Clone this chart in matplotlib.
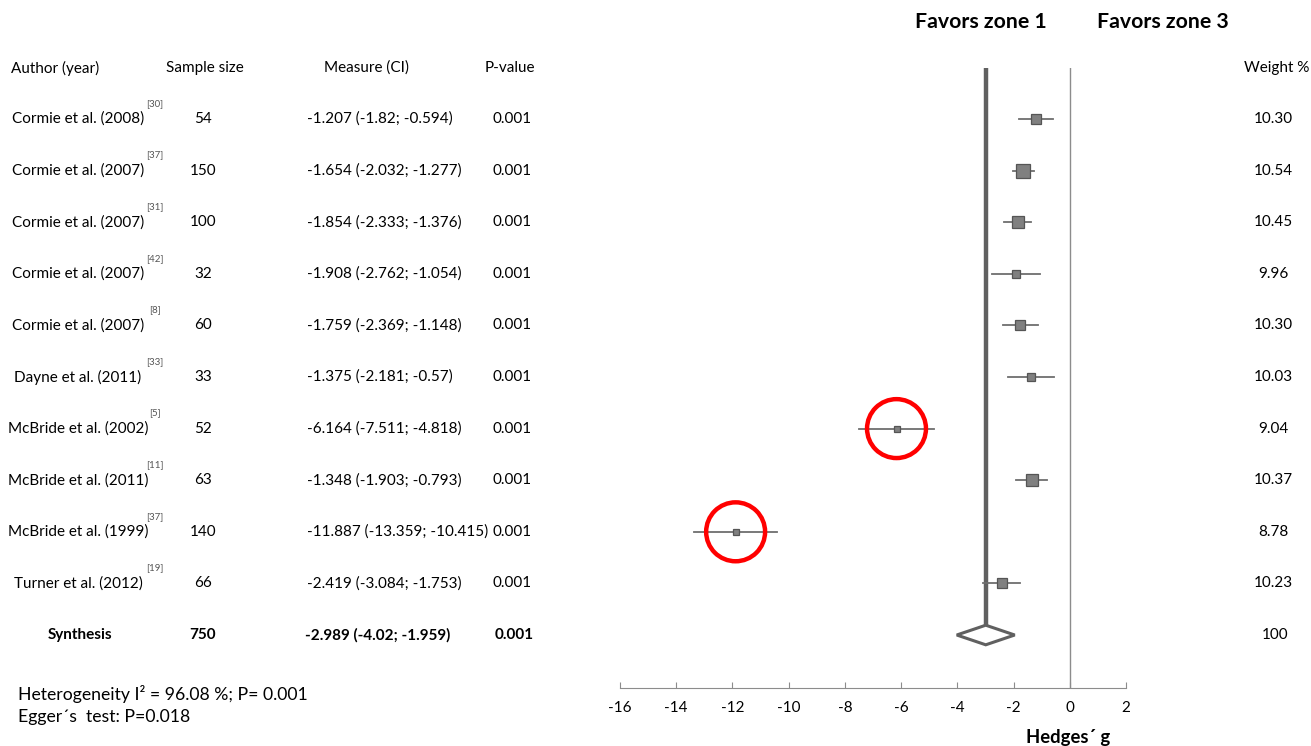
import numpy as np
import matplotlib.pyplot as plt
from matplotlib import transforms

plt.rcParams['font.family'] = ['Lato', 'DejaVu Sans']
plt.rcParams['axes.unicode_minus'] = False

authors = ['Cormie et al. (2008)', 'Cormie et al. (2007)', 'Cormie et al. (2007)',
           'Cormie et al. (2007)', 'Cormie et al. (2007)', 'Dayne et al. (2011)',
           'McBride et al. (2002)', 'McBride et al. (2011)', 'McBride et al. (1999)',
           'Turner et al. (2012)']
refs = ['[30]', '[37]', '[31]', '[42]', '[8]', '[33]', '[5]', '[11]', '[37]', '[19]']
sample_size = [54, 150, 100, 32, 60, 33, 52, 63, 140, 66]
estimate = [-1.207, -1.654, -1.854, -1.908, -1.759, -1.375, -6.164, -1.348, -11.887, -2.419]
ci_low = [-1.82, -2.032, -2.333, -2.762, -2.369, -2.181, -7.511, -1.903, -13.359, -3.084]
ci_high = [-0.594, -1.277, -1.376, -1.054, -1.148, -0.57, -4.818, -0.793, -10.415, -1.753]
p_values = ['0.001'] * 10
weights = ['10.30', '10.54', '10.45', '9.96', '10.30', '10.03', '9.04', '10.37', '8.78', '10.23']
outliers = [6, 8]

syn_n = 750
syn_est, syn_low, syn_high = -2.989, -4.02, -1.959
syn_p = '0.001'
syn_weight = '100'

W, H = 1311, 746
fig = plt.figure(figsize=(W / 100, H / 100), dpi=100)

# forest panel: x from -16 to 2, one row per study plus the synthesis row
ax = fig.add_axes([620 / W, 1 - 688 / H, 506 / W, 620 / H])
ax.set_xlim(-16, 2)
ax.set_ylim(11.027, -0.988)
for side in ['top', 'right', 'left']:
    ax.spines[side].set_visible(False)
ax.spines['bottom'].set_color('#8c8c8c')
ax.set_yticks([])
ax.set_xticks(np.arange(-16, 3, 2))
ax.tick_params(axis='x', direction='in', length=4, color='#8c8c8c', pad=9, labelsize=11)

rows = np.arange(len(authors))
syn_row = len(authors)

# reference line at zero and pooled estimate line
ax.axvline(0, color='#8c8c8c', lw=1, zorder=1)
ax.plot([syn_est, syn_est], [-0.988, syn_row - 0.2], color='#606060', lw=3.2,
        solid_capstyle='butt', zorder=2)

for i in rows:
    ax.plot([ci_low[i], ci_high[i]], [i, i], color='#6e6e6e', lw=1.3, zorder=3)
    size_px = 4 + 8 / (ci_high[i] - ci_low[i])
    ax.plot(estimate[i], i, marker='s', markersize=size_px * 0.72,
            markerfacecolor='#808080', markeredgecolor='#555555', markeredgewidth=0.9,
            zorder=4)

ax.fill([syn_low, syn_est, syn_high, syn_est, syn_low],
        [syn_row, syn_row - 0.19, syn_row, syn_row + 0.19, syn_row],
        facecolor='white', edgecolor='#606060', lw=2.2, zorder=5, joinstyle='miter')

ax.scatter([estimate[i] for i in outliers], outliers, s=1800, facecolors='none',
           edgecolors='#ff0000', linewidths=3.2, zorder=6)

# table columns on the left, rows aligned to the forest axes
tr = transforms.blended_transform_factory(fig.transFigure, ax.transData)
fy = lambda px: 1 - px / H
fx = lambda px: px / W

fs = 11
header_y = fy(68)
fig.text(fx(11), header_y, 'Author (year)', ha='left', va='center', fontsize=fs)
fig.text(fx(205), header_y, 'Sample size', ha='center', va='center', fontsize=fs)
fig.text(fx(366), header_y, 'Measure (CI)', ha='center', va='center', fontsize=fs)
fig.text(fx(510), header_y, 'P-value', ha='center', va='center', fontsize=fs)
fig.text(fx(1309), header_y, 'Weight %', ha='right', va='center', fontsize=fs)

for i in rows:
    ax.text(fx(78), i, authors[i], transform=tr, ha='center', va='center', fontsize=fs)
    ax.text(fx(155), i - 0.3, refs[i], transform=tr, ha='center', va='center',
            fontsize=7, color='#555555')
    ax.text(fx(203), i, str(sample_size[i]), transform=tr, ha='center', va='center',
            fontsize=fs)
    ax.text(fx(307), i, f'{estimate[i]} ({ci_low[i]}; {ci_high[i]})', transform=tr,
            ha='left', va='center', fontsize=fs)
    ax.text(fx(512), i, p_values[i], transform=tr, ha='center', va='center', fontsize=fs)
    ax.text(fx(1273), i, weights[i], transform=tr, ha='center', va='center', fontsize=fs)

ax.text(fx(80), syn_row, 'Synthesis', transform=tr, ha='center', va='center',
        fontsize=fs, fontweight='bold')
ax.text(fx(203), syn_row, str(syn_n), transform=tr, ha='center', va='center',
        fontsize=fs, fontweight='bold')
ax.text(fx(305), syn_row, f'{syn_est} ({syn_low}; {syn_high})', transform=tr,
        ha='left', va='center', fontsize=fs, fontweight='bold')
ax.text(fx(514), syn_row, syn_p, transform=tr, ha='center', va='center',
        fontsize=fs, fontweight='bold')
ax.text(fx(1275), syn_row, syn_weight, transform=tr, ha='center', va='center', fontsize=fs)

fig.text(fx(981), fy(22), 'Favors zone 1', ha='center', va='center', fontsize=15.3,
         fontweight='bold')
fig.text(fx(1163), fy(22), 'Favors zone 3', ha='center', va='center', fontsize=15.3,
         fontweight='bold')
fig.text(fx(1068), fy(738), 'Hedges\u00b4 g', ha='center', va='center', fontsize=13.3,
         fontweight='bold')

fig.text(fx(18), fy(694), 'Heterogeneity I\u00b2 = 96.08 %; P= 0.001', ha='left',
         va='center', fontsize=12.7)
fig.text(fx(18), fy(717), 'Egger\u00b4s  test: P=0.018', ha='left', va='center',
         fontsize=12.7)

fig.savefig('out.png', dpi=100)
